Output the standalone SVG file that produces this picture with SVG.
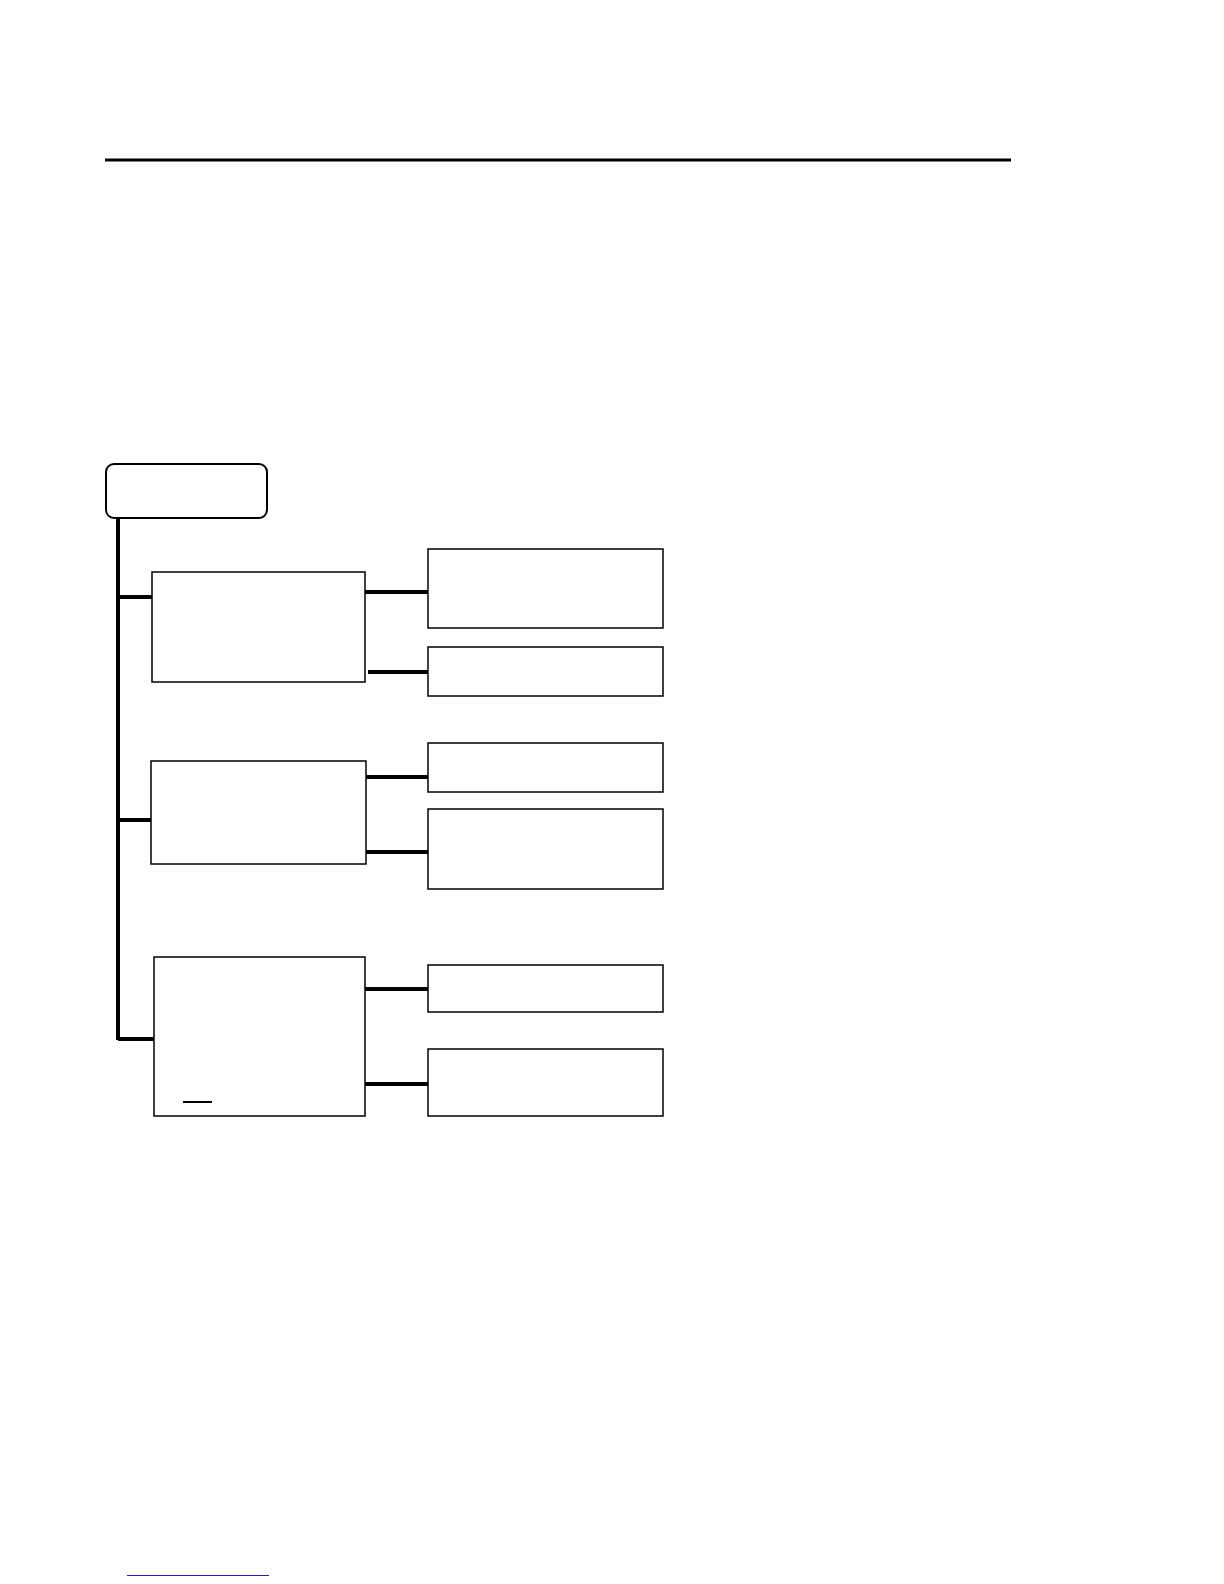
<svg xmlns="http://www.w3.org/2000/svg" width="1224" height="1584" viewBox="0 0 1224 1584">
<style>
.box{fill:#fff;stroke:#000;stroke-width:1.5}
.conn{stroke:#000;stroke-width:4;fill:none}
</style>
<rect width="1224" height="1584" fill="#fff"/>
<line x1="105" y1="160" x2="1011" y2="160" stroke="#000" stroke-width="3"/>
<g id="connectors">
<line class="conn" x1="118" y1="518" x2="118" y2="1040" stroke-width="4.5"/>
<line class="conn" x1="118" y1="597" x2="152" y2="597"/>
<line class="conn" x1="118" y1="820" x2="151" y2="820"/>
<line class="conn" x1="118" y1="1039" x2="154" y2="1039"/>
<line class="conn" x1="365" y1="592" x2="428" y2="592"/>
<line class="conn" x1="368" y1="672" x2="428" y2="672"/>
<line class="conn" x1="366" y1="777" x2="428" y2="777"/>
<line class="conn" x1="366" y1="852" x2="428" y2="852"/>
<line class="conn" x1="365" y1="989" x2="428" y2="989"/>
<line class="conn" x1="365" y1="1084" x2="428" y2="1084"/>
</g>
<g id="root"><rect x="106" y="464" width="161" height="54" rx="8" ry="8" fill="#fff" stroke="#000" stroke-width="2"/></g>
<g id="boxA"><rect class="box" x="152" y="572" width="213" height="110"/></g>
<g id="boxB1"><rect class="box" x="428" y="549" width="235" height="79"/></g>
<g id="boxB2"><rect class="box" x="428" y="647" width="235" height="49"/></g>
<g id="boxC"><rect class="box" x="151" y="761" width="215" height="103" stroke-width="2"/></g>
<g id="boxD1"><rect class="box" x="428" y="743" width="235" height="49"/></g>
<g id="boxD2"><rect class="box" x="428" y="809" width="235" height="80"/></g>
<g id="boxE"><rect class="box" x="154" y="957" width="211" height="159"/>
<line x1="183" y1="1102" x2="212" y2="1102" stroke="#000" stroke-width="2"/></g>
<g id="boxF1"><rect class="box" x="428" y="965" width="235" height="47"/></g>
<g id="boxF2"><rect class="box" x="428" y="1049" width="235" height="67"/></g>
<line x1="127" y1="1575.5" x2="269" y2="1575.5" stroke="#2222b4" stroke-width="1.2"/>
</svg>
